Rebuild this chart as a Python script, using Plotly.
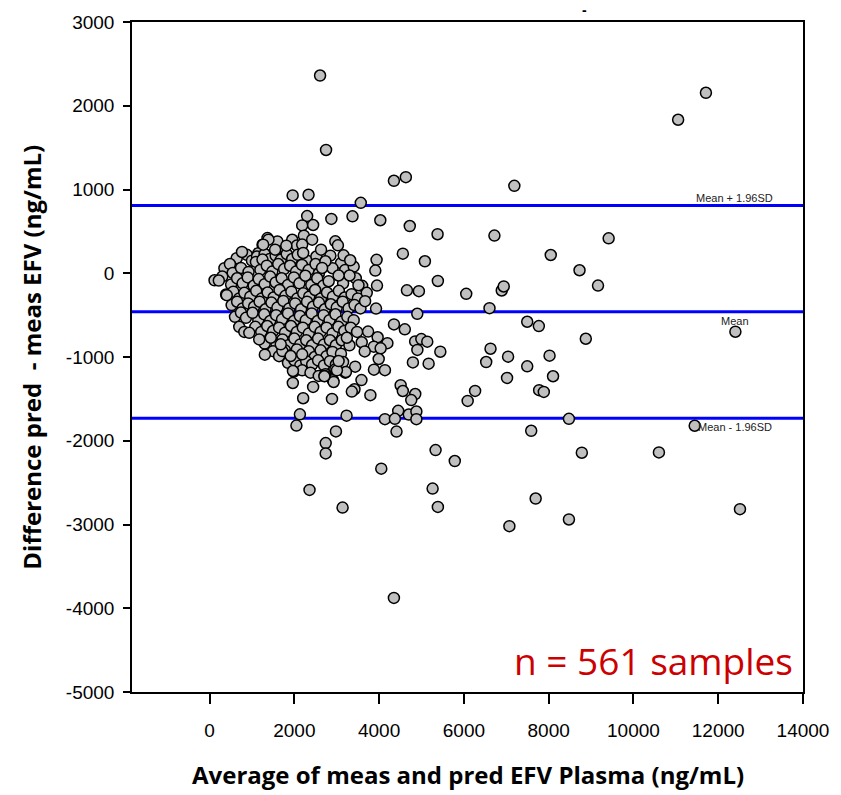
import plotly.graph_objects as go

# ---- scattered (clearly readable) points: average (x) and difference (y) ----
avg_scatter = [11054, 11710, 2607, 2748, 1960, 2335, 4349, 4630, 7190, 3567,
               2302, 2873, 3372, 4028, 4723, 5379, 6720, 9415, 4560, 5080,
               8049, 8728, 9164, 3940, 3910, 3950, 5386, 4656, 4938, 6055,
               6893, 6940, 3927, 6604, 4900, 7494, 7768, 12405, 8876, 4350,
               4606, 3740, 3965, 4195, 3590, 3875, 3660, 4036, 4850, 4996,
               5136, 4902, 5444, 6628, 6526, 7042, 8021, 7494, 7018, 8103,
               3990, 4797, 5168, 3878, 4137, 4508, 4559, 4852, 4758, 6264,
               6089, 7775, 7885, 4450, 4137, 4372, 4700, 4879, 4879, 8478,
               4410, 7588, 11445, 4051, 5332, 5785, 8782, 10601, 5262, 5386,
               7693, 12513, 7073, 8478, 4349, 2131, 2049, 3232, 2981, 2740,
               2740, 2358, 3138, 2208, 1964, 1967, 2888, 2443, 3583, 3419,
               3356, 3794, 2927, 3435, 3216, 3005, 2709, 2185, 2443, 2225,
               2420, 2185, 2208, 2630, 2967, 3028, 3162, 3318, 2733, 2654,
               3708, 3513, 3302, 3044, 2810, 3669, 3239, 3044, 1304, 1717,
               1913, 2185, 1389, 1265, 1811, 1546, 765, 218, 405, 937,
               1171, 1445, 1679, 859, 1014]
diff_scatter = [1833, 2155, 2361, 1472, 929, 937, 1104, 1147, 1044, 841,
                683, 649, 680, 633, 564, 466, 450, 417, 234, 143,
                218, 36, -147, 160, 32, -147, -92, -204, -214, -246,
                -206, -158, -422, -417, -484, -579, -631, -698, -782, -611,
                -670, -697, -764, -835, -824, -877, -933, -897, -814, -786,
                -817, -915, -937, -901, -1060, -996, -984, -1111, -1250, -1230,
                -1024, -1065, -1080, -1151, -1157, -1337, -1406, -1442, -1514, -1405,
                -1524, -1396, -1417, -1643, -1742, -1738, -1687, -1651, -1742, -1738,
                -1891, -1881, -1821, -2333, -2111, -2242, -2143, -2139, -2571, -2790,
                -2690, -2817, -3020, -2940, -3877, -1685, -1819, -1700, -1889, -2028,
                -2151, -2587, -2798, -1492, -1310, -1167, -1500, -1357, -1276, -1385,
                -1413, -1456, -1298, -1115, -1179, -1159, -1230, 571, 576, 449,
                401, 342, 242, 282, 381, 333, 214, 155, 143, 63,
                -234, -143, -27, -27, -95, -333, -770, -1048, -972, -929,
                -988, -968, 401, 341, 329, 282, 254, -87, -262, -711,
                -790, -770, -849, -532, -473]

# ---- dense cluster (estimated positions) ----
avg_cluster = [
    1366, 1249, 1600, 1950, 2060, 1700, 1150,
    640, 880, 1000, 1120, 1300, 1420, 1560, 1680, 1820, 1950, 2080, 2300, 2520, 2850, 3100,
    350, 480, 546, 742, 920, 1094, 1248, 1200, 1350, 1480, 1620, 1760, 1900, 2040, 2180, 2340, 2500, 2580, 2900, 3200, 3400,
    117, 300, 508, 650, 780, 900, 1040, 1160, 1300, 1430, 1560, 1700, 1850, 1990, 2120, 2260, 2400, 2540, 2680, 3150, 3450, 3600,
    390, 560, 700, 820, 960, 1100, 1230, 1370, 1510, 1650, 1790, 1930, 2070, 2210, 2350, 2490, 2630, 2770, 2910, 3050, 3190, 3350, 3500,
    520, 650, 780, 910, 1050, 1180, 1320, 1460, 1600, 1740, 1880, 2020, 2160, 2300, 2440, 2580, 2720, 2860, 3000, 3140, 3280, 3420, 3560,
    600, 740, 1150, 1290, 1430, 1570, 1710, 1850, 1990, 2130, 2270, 2410, 2550, 2690, 2830, 2970, 3110, 3250, 3400,
    700, 820, 1080, 1220, 1360, 1500, 1640, 1780, 1920, 2060, 2200, 2340, 2480, 2620, 2760, 2900, 3040, 3180, 3330, 3480,
    1300, 1580, 1720, 1860, 2000, 2140, 2280, 2420, 2560, 2700, 2840, 2980, 3120, 3300,
    1500, 1640, 1780, 1920, 2060, 2200, 2340, 2480, 2620, 2760, 2900, 3100,
    1850, 2000, 2140, 2280, 2420, 2560, 2700, 2840, 2980, 3150,
    1990, 2185, 2381, 2576, 2733, 2967, 3201, 2911, 2716,
]
diff_cluster = [
    420, 341, 380, 400, 330, 250, 240,
    180, 220, 150, 200, 230, 170, 210, 160, 230, 170, 220, 150, 200, 210, 120,
    60, 110, 4, 63, 16, 135, 163, 40, 90, 20, 110, 50, 90, 20, 100, 40, 110, 0, 60, 40, 80,
    -84, -40, -135, -60, -120, -50, -150, -70, -130, -40, -110, -60, -140, -50, -120, -30, -140, -60, -150, -120, -60, -150,
    -254, -220, -300, -234, -280, -210, -300, -230, -290, -200, -270, -220, -300, -240, -280, -200, -300, -230, -280, -210, -290, -250, -300,
    -380, -340, -420, -360, -400, -340, -430, -350, -410, -330, -420, -360, -430, -340, -400, -350, -430, -370, -410, -340, -420, -380, -420,
    -520, -470, -560, -490, -570, -500, -550, -480, -570, -510, -560, -480, -570, -500, -560, -490, -580, -520, -560,
    -640, -700, -640, -700, -630, -690, -650, -710, -630, -700, -650, -720, -640, -700, -650, -720, -640, -690, -650, -700,
    -840, -850, -790, -860, -780, -850, -800, -860, -780, -850, -800, -860, -800, -860,
    -930, -990, -920, -980, -910, -990, -930, -1000, -920, -990, -940, -960,
    -1070, -1040, -1100, -1050, -1090, -1040, -1100, -1050, -1090, -1060,
    -1175, -1159, -1187, -1226, -1206, -1147, -1187, -1278, -1226,
]

# ---- reference lines ----
mean_diff = -460
upper_loa = 810
lower_loa = -1730
line_values = [upper_loa, mean_diff, lower_loa]
line_labels = ["Mean + 1.96SD", "Mean", "Mean - 1.96SD"]
label_x = 12389

# ---- axes ----
x_ticks = [0, 2000, 4000, 6000, 8000, 10000, 12000, 14000]
x_ticktext = ["0", "2000", "4000", "6000", "8000", "10000", "12000", "14000"]
y_ticks = [3000, 2000, 1000, 0, -1000, -2000, -3000, -4000, -5000]
y_ticktext = ["3000", "2000", "1000", "0", "-1000", "-2000", "-3000", "-4000", "-5000"]
x_title = "Average of meas and pred EFV Plasma (ng/mL)"
y_title = "Difference pred  - meas EFV (ng/mL)"
n_label = "n = 561 samples"
top_title = "-"

tick_font = dict(family="Liberation Sans, Arial, sans-serif", size=19, color="black")
title_font = dict(family="Open Sans, sans-serif", size=24, color="black")

fig = go.Figure()

fig.add_trace(go.Scatter(
    x=avg_cluster + avg_scatter,
    y=diff_cluster + diff_scatter,
    mode="markers",
    marker=dict(size=11, color="#c0c0c0", line=dict(color="black", width=1.5)),
    showlegend=False,
    hoverinfo="x+y",
))

for v in line_values:
    fig.add_hline(y=v, line=dict(color="#0000ff", width=3), layer="below")

for v, lab in zip(line_values, line_labels):
    fig.add_annotation(
        x=label_x, y=v, text=lab, showarrow=False,
        xanchor="center", yanchor="bottom" if v == upper_loa else "top",
        yshift=-1,
        font=dict(family="Liberation Sans, Arial, sans-serif", size=11, color="#222222"),
    )

fig.add_annotation(x=0.5, y=-0.1235, xref="paper", yref="paper", text="<b>" + x_title + "</b>",
                   showarrow=False, xanchor="center", yanchor="middle", font=title_font)
fig.add_annotation(x=-0.151, y=0.5, xref="paper", yref="paper", text="<b>" + y_title + "</b>",
                   showarrow=False, xanchor="center", yanchor="middle", textangle=-90, font=title_font)
fig.add_annotation(x=0.988, y=0.0476, xref="paper", yref="paper", text=n_label,
                   showarrow=False, xanchor="right", yanchor="middle",
                   font=dict(family="Open Sans, sans-serif", size=37, color="#cc0000"))
fig.add_annotation(x=0.674, y=1.018, xref="paper", yref="paper", text="<b>" + top_title + "</b>",
                   showarrow=False, xanchor="center", yanchor="middle",
                   font=dict(family="Liberation Sans, Arial, sans-serif", size=14, color="black"))

fig.update_layout(
    width=841, height=795,
    margin=dict(l=132, r=34, t=20, b=103),
    plot_bgcolor="white", paper_bgcolor="white",
    xaxis=dict(range=[-1830, 14000], tickvals=x_ticks, ticktext=x_ticktext,
               ticks="outside", ticklen=10, tickwidth=1.5, tickcolor="black",
               showline=True, linecolor="black", linewidth=1.5, mirror=True,
               showgrid=False, zeroline=False, tickfont=tick_font, ticklabelstandoff=10),
    yaxis=dict(range=[-5000, 3000], tickvals=y_ticks, ticktext=y_ticktext,
               ticks="outside", ticklen=7, tickwidth=1.5, tickcolor="black",
               showline=True, linecolor="black", linewidth=1.5, mirror=True,
               showgrid=False, zeroline=False, tickfont=tick_font, ticklabelstandoff=5),
)

# remove the default page margin so the figure starts at the window corner
fig.write_html("out.html",
               config={"displayModeBar": False},
               post_script="document.body.style.margin='0';document.body.style.overflow='hidden';")
